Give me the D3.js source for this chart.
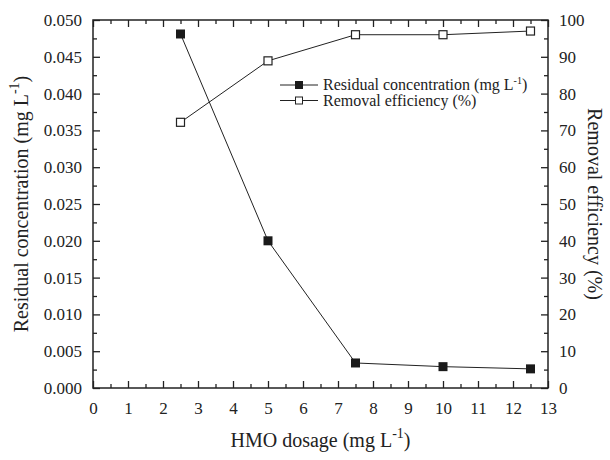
<html>
<head>
<script src="https://d3js.org/d3.v7.min.js"></script>
<style>
  body { margin: 0; background: #fff; font-family: "Times New Roman", "Liberation Serif", serif; }
  svg text { font-family: "Times New Roman", "Liberation Serif", serif !important; }
</style>
</head>
<body>
<div id="chart_area"></div>
<script>
// values
var dosage = [2.5, 5, 7.5, 10, 12.5];
var residual = [0.0481, 0.0200, 0.0034, 0.0029, 0.0026];
var removal = [72.2, 88.9, 96.0, 96.0, 97.0];
var xTicks = d3.range(0, 14, 1);
var yLeftTicks = [0, 0.005, 0.010, 0.015, 0.020, 0.025, 0.030, 0.035, 0.040, 0.045, 0.050];
var yRightTicks = [0, 10, 20, 30, 40, 50, 60, 70, 80, 90, 100];

var W = 610, H = 460;
var margin = {top: 20, right: 62, bottom: 72, left: 93};
var width = W - margin.left - margin.right,
    height = H - margin.top - margin.bottom;

var svg = d3.select("#chart_area").append("svg")
    .attr("width", W).attr("height", H);
var g = svg.append("g").attr("transform", "translate(" + margin.left + "," + margin.top + ")");

var x = d3.scaleLinear().domain([0, 13]).range([0, width]);
var yL = d3.scaleLinear().domain([0, 0.05]).range([height, 0]);
var yR = d3.scaleLinear().domain([0, 100]).range([height, 0]);

var xMinor = d3.range(0.5, 13, 1);
var yLMinor = d3.range(0.0025, 0.05, 0.005);
var yRMinor = d3.range(5, 100, 10);

function styleAxis(sel) {
  sel.attr("font-family", null).attr("font-size", 17);
  sel.select(".domain").remove();
  sel.selectAll("line").attr("stroke", "#222").attr("stroke-width", 1.3);
  sel.selectAll("text").attr("fill", "#222");
}

// bottom axis, ticks pointing in
g.append("g").attr("transform", "translate(0," + height + ")")
  .call(d3.axisBottom(x).tickValues(xTicks).tickFormat(d3.format("d")).tickSizeInner(-7).tickSizeOuter(0).tickPadding(14))
  .call(styleAxis);
g.append("g").attr("transform", "translate(0," + height + ")")
  .call(d3.axisBottom(x).tickValues(xMinor).tickFormat("").tickSizeInner(-4).tickSizeOuter(0))
  .call(styleAxis);
// top
g.append("g")
  .call(d3.axisTop(x).tickValues(xTicks).tickFormat("").tickSizeInner(-7).tickSizeOuter(0))
  .call(styleAxis);
g.append("g")
  .call(d3.axisTop(x).tickValues(xMinor).tickFormat("").tickSizeInner(-4).tickSizeOuter(0))
  .call(styleAxis);
// left
g.append("g")
  .call(d3.axisLeft(yL).tickValues(yLeftTicks).tickFormat(d3.format(".3f")).tickSizeInner(-7).tickSizeOuter(0).tickPadding(11))
  .call(styleAxis);
g.append("g")
  .call(d3.axisLeft(yL).tickValues(yLMinor).tickFormat("").tickSizeInner(-4).tickSizeOuter(0))
  .call(styleAxis);
// right
g.append("g").attr("transform", "translate(" + width + ",0)")
  .call(d3.axisRight(yR).tickValues(yRightTicks).tickFormat(d3.format("d")).tickSizeInner(-7).tickSizeOuter(0).tickPadding(11))
  .call(styleAxis);
g.append("g").attr("transform", "translate(" + width + ",0)")
  .call(d3.axisRight(yR).tickValues(yRMinor).tickFormat("").tickSizeInner(-4).tickSizeOuter(0))
  .call(styleAxis);

// frame
g.append("rect").attr("width", width).attr("height", height)
  .attr("fill", "none").attr("stroke", "#222").attr("stroke-width", 1.5);

// series
var resData = dosage.map(function(d, i) { return [d, residual[i]]; });
var remData = dosage.map(function(d, i) { return [d, removal[i]]; });

g.append("path").datum(resData)
  .attr("fill", "none").attr("stroke", "#222").attr("stroke-width", 1)
  .attr("d", d3.line().x(d => x(d[0])).y(d => yL(d[1])));
g.append("path").datum(remData)
  .attr("fill", "none").attr("stroke", "#222").attr("stroke-width", 1)
  .attr("d", d3.line().x(d => x(d[0])).y(d => yR(d[1])));

var s = 9;
g.selectAll(".res_pt").data(resData).enter().append("rect")
  .attr("class", "res_pt")
  .attr("x", d => x(d[0]) - s / 2).attr("y", d => yL(d[1]) - s / 2)
  .attr("width", s).attr("height", s).attr("fill", "#1a1a1a");
g.selectAll(".rem_pt").data(remData).enter().append("rect")
  .attr("class", "rem_pt")
  .attr("x", d => x(d[0]) - s / 2 + 0.5).attr("y", d => yR(d[1]) - s / 2 + 0.5)
  .attr("width", s - 1).attr("height", s - 1).attr("fill", "#fff")
  .attr("stroke", "#222").attr("stroke-width", 1.2);

// legend
var legend = svg.append("g").attr("transform", "translate(280,85)");
var legItems = [
  {label: "Residual concentration (mg L", sup: "-1", tail: ")", filled: true},
  {label: "Removal efficiency (%)", filled: false}
];
legItems.forEach(function(it, i) {
  var row = legend.append("g").attr("transform", "translate(0," + (i * 15.5) + ")");
  row.append("line").attr("x1", 0).attr("x2", 38).attr("stroke", "#222").attr("stroke-width", 1);
  if (it.filled) {
    row.append("rect").attr("x", 15).attr("y", -4).attr("width", 8).attr("height", 8).attr("fill", "#1a1a1a");
  } else {
    row.append("rect").attr("x", 15.5).attr("y", -3.5).attr("width", 7).attr("height", 7)
      .attr("fill", "#fff").attr("stroke", "#222").attr("stroke-width", 1);
  }
  var t = row.append("text").attr("x", 43).attr("y", 5).attr("fill", "#222")
    .attr("font-size", 16).text(it.label);
  if (it.sup) {
    t.append("tspan").attr("dy", -6).attr("font-size", 10).text(it.sup);
    t.append("tspan").attr("dy", 6).text(it.tail);
  }
});

// axis titles
var xt = svg.append("text").attr("x", margin.left + width / 2).attr("y", 447).attr("fill", "#222")
  .attr("text-anchor", "middle").attr("font-size", 20).text("HMO dosage (mg L");
xt.append("tspan").attr("dy", -9).attr("font-size", 14).text("-1");
xt.append("tspan").attr("dy", 9).text(")");

var yt = svg.append("text").attr("fill", "#222")
  .attr("transform", "translate(28," + (margin.top + height / 2) + ") rotate(-90)")
  .attr("text-anchor", "middle").attr("font-size", 20).text("Residual concentration (mg L");
yt.append("tspan").attr("dy", -9).attr("font-size", 14).text("-1");
yt.append("tspan").attr("dy", 9).text(")");

svg.append("text").attr("fill", "#222")
  .attr("transform", "translate(588," + (margin.top + height / 2) + ") rotate(90)")
  .attr("text-anchor", "middle").attr("font-size", 20).text("Removal efficiency (%)");
</script>
</body>
</html>
